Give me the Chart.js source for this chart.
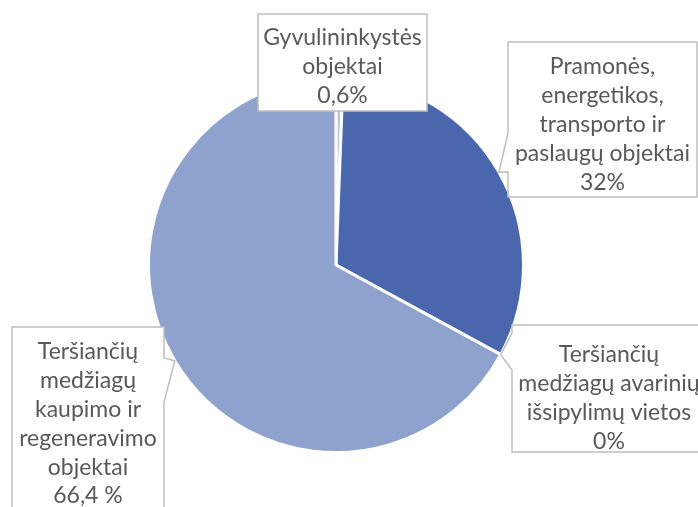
<!DOCTYPE html>
<html>
<head>
<meta charset="utf-8">
<script src="https://cdn.jsdelivr.net/npm/chart.js@4/dist/chart.umd.min.js"></script>
<style>
  html, body { margin: 0; padding: 0; background: #fff; }
  #wrap { width: 698px; height: 507px; position: relative; }
</style>
</head>
<body>
<div id="wrap"><canvas id="pieChart"></canvas></div>
<script>
"use strict"

// Pie data

const categories = [
    ['Gyvulininkystės', 'objektai'],
    ['Pramonės,', 'energetikos,', 'transporto ir', 'paslaugų objektai'],
    ['Teršiančių', 'medžiagų avarinių', 'išsipylimų vietos'],
    ['Teršiančių', 'medžiagų', 'kaupimo ir', 'regeneravimo', 'objektai']
];
const shares = [0.6, 32, 0, 66.4];
const percentSigns = ['%', '%', '%', ' %'];
const sliceColors = ['#b7c3e2', '#4a66ac', '#6f87c2', '#8fa2cd'];

// callout boxes: rectangle + which side the pointer leaves from
const callouts = [
    { x0: 258, y0: 14, x1: 427, y1: 111, side: null, top: 38 },
    { x0: 508, y0: 42, x1: 697, y1: 197, side: 'left', b1: 133, b2: 172, top: 67 },
    { x0: 512, y0: 325, x1: 706, y1: 452, side: 'left', b1: 333, b2: 370, top: 355 },
    { x0: 12, y0: 327, x1: 164, y1: 516, side: 'right', b1: 358, b2: 402, top: 352 }
];

function valueText(i) {
    return String(shares[i]).replace('.', ',') + percentSigns[i];
}

const calloutPlugin = {
    id: 'callouts',
    afterDatasetsDraw(chart) {
        const ctx = chart.ctx;
        const arcs = chart.getDatasetMeta(0).data;
        ctx.save();
        callouts.forEach((c, i) => {
            const arc = arcs[i];
            const mid = (arc.startAngle + arc.endAngle) / 2;
            const tipX = arc.x + Math.cos(mid) * arc.outerRadius;
            const tipY = arc.y + Math.sin(mid) * arc.outerRadius;

            ctx.beginPath();
            if (c.side === 'left') {
                ctx.moveTo(c.x0, c.y0);
                ctx.lineTo(c.x1, c.y0);
                ctx.lineTo(c.x1, c.y1);
                ctx.lineTo(c.x0, c.y1);
                ctx.lineTo(c.x0, c.b2);
                ctx.lineTo(tipX, tipY);
                ctx.lineTo(c.x0, c.b1);
            } else if (c.side === 'right') {
                ctx.moveTo(c.x0, c.y0);
                ctx.lineTo(c.x1, c.y0);
                ctx.lineTo(c.x1, c.b1);
                ctx.lineTo(tipX, tipY);
                ctx.lineTo(c.x1, c.b2);
                ctx.lineTo(c.x1, c.y1);
                ctx.lineTo(c.x0, c.y1);
            } else {
                ctx.rect(c.x0, c.y0, c.x1 - c.x0, c.y1 - c.y0);
            }
            ctx.closePath();
            ctx.fillStyle = '#ffffff';
            ctx.fill();
            ctx.strokeStyle = '#bfbfbf';
            ctx.lineWidth = 1.5;
            ctx.stroke();

            // label lines, then the value
            const lines = categories[i].concat([valueText(i)]);
            const cx = (c.x0 + Math.min(c.x1, chart.width + 8)) / 2;
            ctx.fillStyle = '#595959';
            ctx.font = '23px Lato';
            ctx.textAlign = 'center';
            ctx.textBaseline = 'middle';
            lines.forEach((t, k) => ctx.fillText(t, cx, c.top + k * 28.8));
        });
        ctx.restore();
    }
};

const pieChart = new Chart(document.getElementById('pieChart'), {
    type: 'pie',
    data: {
        labels: categories.map(c => c.join(' ')),
        datasets: [{
            data: shares,
            backgroundColor: sliceColors,
            borderColor: '#ffffff',
            borderWidth: 3
        }]
    },
    options: {
        responsive: true,
        maintainAspectRatio: false,
        animation: false,
        layout: {
            padding: { top: 76, bottom: 53, left: 147, right: 173 }
        },
        plugins: {
            legend: { display: false },
            tooltip: { enabled: false }
        }
    },
    plugins: [calloutPlugin]
});
</script>
</body>
</html>
